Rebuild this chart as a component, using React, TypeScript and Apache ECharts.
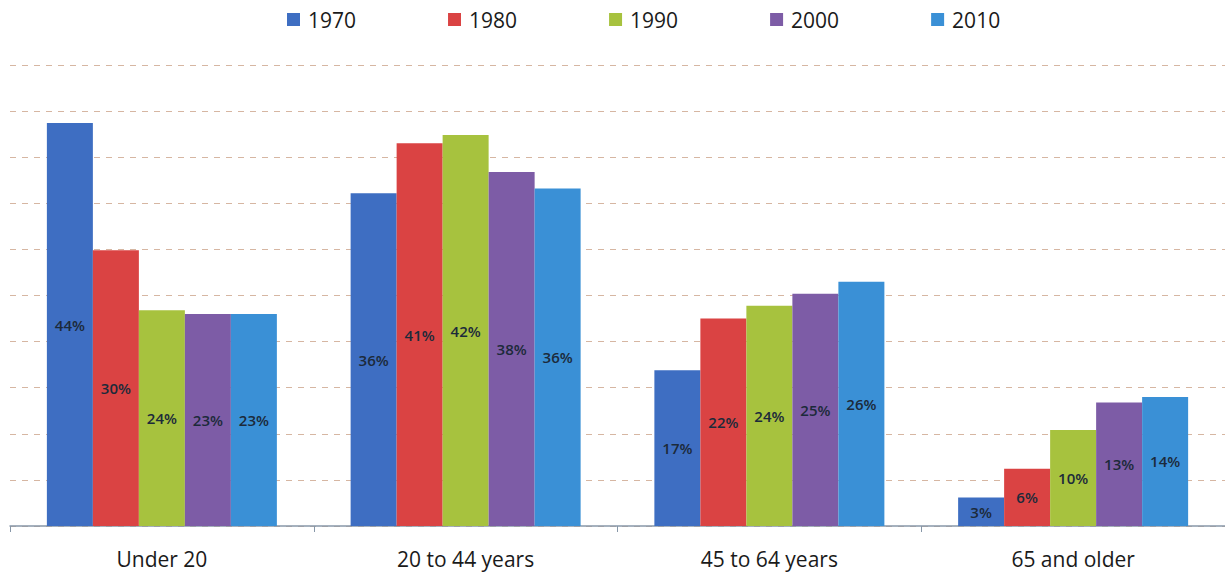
import React, { useEffect, useRef } from "react";
import * as echarts from "echarts";

const categories = ["Under 20", "20 to 44 years", "45 to 64 years", "65 and older"];
const years = ["1970", "1980", "1990", "2000", "2010"];
const colors = ["#3E6EC2", "#DA4343", "#A7C23E", "#7D5CA6", "#3A90D6"];

// bar heights (percent)
const v1970 = [43.7, 36.1, 16.9, 3.1];
const v1980 = [29.9, 41.5, 22.5, 6.2];
const v1990 = [23.4, 42.4, 23.9, 10.4];
const v2000 = [23.0, 38.4, 25.2, 13.4];
const v2010 = [23.0, 36.6, 26.5, 14.0];

// printed data labels
const l1970 = ["44%", "36%", "17%", "3%"];
const l1980 = ["30%", "41%", "22%", "6%"];
const l1990 = ["24%", "42%", "24%", "10%"];
const l2000 = ["23%", "38%", "25%", "13%"];
const l2010 = ["23%", "36%", "26%", "14%"];

const values = [v1970, v1980, v1990, v2000, v2010];
const labels = [l1970, l1980, l1990, l2000, l2010];

const FONT = "'Open Sans', 'Noto Sans', sans-serif";

export default function App() {
  const ref = useRef<HTMLDivElement>(null);
  useEffect(() => {
    if (!ref.current) return;
    const chart = echarts.init(ref.current, undefined, { renderer: "svg" });
    chart.setOption({
      animation: false,
      backgroundColor: "#ffffff",
      legend: {
        left: 282,
        top: 4,
        itemWidth: 13,
        itemHeight: 13,
        itemGap: 92,
        icon: "rect",
        data: years,
        textStyle: { fontSize: 21, color: "#1a1a1a", fontFamily: FONT, padding: [0, 0, 0, 3] },
      },
      grid: { left: 10, width: 1220, top: 65, height: 461, containLabel: false },
      xAxis: {
        type: "category",
        data: categories,
        axisLine: { lineStyle: { color: "#8797a8", width: 1.5 } },
        axisTick: { show: true, length: 6, alignWithLabel: false, lineStyle: { color: "#8797a8" } },
        axisLabel: { fontSize: 21, color: "#1a1a1a", fontFamily: FONT, margin: 22 },
      },
      yAxis: {
        type: "value",
        min: 0,
        max: 50,
        interval: 5,
        axisLabel: { show: false },
        axisLine: { show: false },
        axisTick: { show: false },
        splitLine: { lineStyle: { color: "#d6b6a2", type: [6, 6], width: 1 } },
      },
      series: years.map((y, i) => ({
        name: y,
        type: "bar",
        data: values[i],
        barWidth: 46,
        barGap: "0%",
        itemStyle: { color: colors[i] },
        label: {
          show: true,
          position: "inside",
          formatter: (p: any) => labels[i][p.dataIndex],
          fontSize: 15,
          fontWeight: 600,
          color: "#1c2a3a",
          fontFamily: FONT,
        },
      })),
    });
    return () => chart.dispose();
  }, []);
  return (
    <div
      ref={ref}
      style={{ position: "fixed", left: 0, top: 0, width: 1225, height: 573 }}
    />
  );
}
